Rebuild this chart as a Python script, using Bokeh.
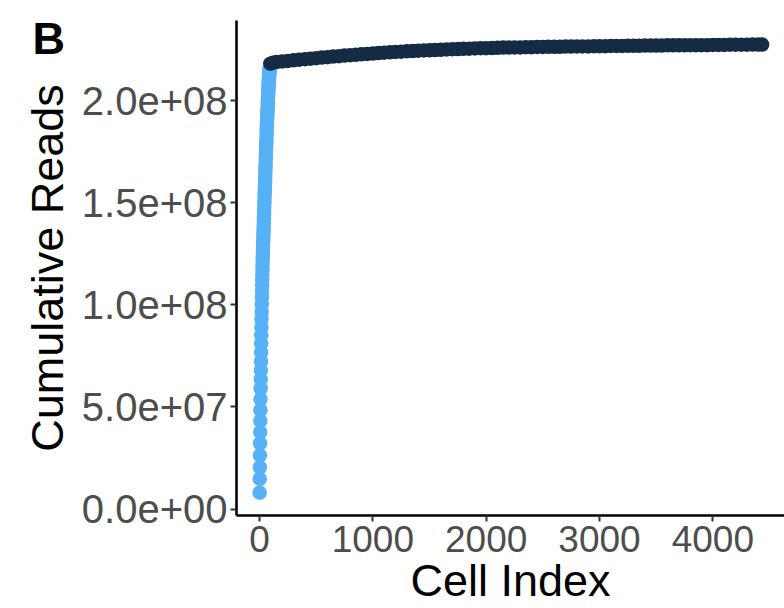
import math
from bokeh.plotting import figure
from bokeh.models import (ColumnDataSource, FixedTicker, CustomJSTickFormatter,
                          Range1d, Title)
from bokeh.embed import file_html
from bokeh.resources import INLINE

# ---------------- data ----------------
blue_cells = [1, 2, 3, 4, 5, 6, 7, 8, 9, 10, 11, 12, 13, 14, 15, 16, 17, 18, 19, 20,
              21, 22, 23, 24, 25, 26, 27, 28, 29, 30, 31, 32, 33, 34, 35, 36, 37, 38, 39, 40,
              41, 42, 43, 44, 45, 46, 47, 48, 49, 50, 51, 52, 53, 54, 55, 56, 57,
              58, 59, 60, 61, 62, 63, 64, 65, 66, 67, 68, 69, 70, 71, 72, 73, 74, 75, 76,
              77, 78, 79, 80, 81, 82, 83, 84, 85, 86, 87, 88, 89, 90, 91, 92, 93, 94, 95]
blue_reads_m = [8.0, 14.7, 20.4, 26.3, 32.1, 37.7, 43.2, 48.4, 53.8, 59.0,
                63.6, 68.0, 72.4, 76.6, 81.0, 85.1, 89.1, 92.9, 96.5, 100.2,
                103.6, 106.7, 109.6, 112.3, 114.8, 117.2, 119.5, 121.7, 123.8, 125.8,
                127.8, 129.7, 131.6, 133.4, 135.2, 137.0, 138.8, 140.6, 142.4, 144.2,
                146.0, 147.8, 149.6, 151.4, 153.2, 155.0, 156.8, 158.6, 160.4, 162.2,
                164.0, 165.8, 167.6, 169.4, 171.1, 172.8, 174.5,
                176.2, 177.9, 179.5, 181.1, 182.7, 184.3, 185.8, 187.3, 188.8, 190.3,
                191.7, 193.1, 194.5, 195.9, 197.2, 198.5, 199.8, 201.0, 202.2, 203.4,
                204.6, 205.7, 206.8, 207.9, 208.9, 209.9, 210.8, 211.7, 212.5, 213.3,
                214.0, 214.7, 215.3, 215.9, 216.4, 216.9, 217.3, 217.7]

dark_cells = [96, 120, 150, 200, 250, 300, 350, 400, 450, 500, 550, 600, 650, 700, 750,
              800, 850, 900, 950, 1000, 1050, 1100, 1150, 1200, 1250, 1300, 1350, 1400,
              1450, 1500, 1550, 1600, 1650, 1700, 1750, 1800, 1850, 1900, 1950, 2000,
              2050, 2100, 2150, 2200, 2250, 2300, 2350, 2400, 2450, 2500, 2550, 2600,
              2650, 2700, 2750, 2800, 2850, 2900, 2950, 3000, 3050, 3100, 3150, 3200,
              3250, 3300, 3350, 3400, 3450, 3500, 3550, 3600, 3650, 3700, 3750, 3800,
              3850, 3900, 3950, 4000, 4050, 4100, 4150, 4200, 4250, 4300, 4350, 4400, 4435]
dark_reads_m = [218.0, 218.5, 218.8, 219.1, 219.4, 219.7, 220.0, 220.2, 220.5, 220.7,
                221.0, 221.2, 221.5, 221.7, 222.0, 222.2, 222.4, 222.6, 222.8, 223.0,
                223.2, 223.4, 223.6, 223.8, 223.9, 224.1, 224.2, 224.4, 224.5, 224.6,
                224.7, 224.8, 225.0, 225.1, 225.2, 225.3, 225.4, 225.5, 225.6, 225.6,
                225.7, 225.8, 225.9, 225.9, 226.0, 226.0, 226.1, 226.1, 226.2, 226.2,
                226.3, 226.3, 226.3, 226.4, 226.4, 226.5, 226.5, 226.5, 226.6, 226.6,
                226.6, 226.7, 226.7, 226.7, 226.8, 226.8, 226.8, 226.9, 226.9, 226.9,
                226.9, 227.0, 227.0, 227.0, 227.0, 227.1, 227.1, 227.1, 227.1, 227.2,
                227.2, 227.2, 227.3, 227.3, 227.3, 227.3, 227.4, 227.4, 227.4]

x_ticks = [0, 1000, 2000, 3000, 4000]
y_ticks = [0, 50_000_000, 100_000_000, 150_000_000, 200_000_000]

x_title = "Cell Index"
y_title = "Cumulative Reads"
panel_tag = "B"

BLUE = "#56B1F7"
NAVY = "#132B43"
FONT = "Liberation Sans"

W, H = 784, 608
LEFT, TOP, BOTTOM, RIGHT = 236, 20, 93, 0
X0, X1 = -203.0, 4632.5
Y0, Y1 = -3.18e6, 239.17e6

p = figure(width=W, height=H, output_backend="svg", toolbar_location=None,
           x_range=Range1d(X0, X1), y_range=Range1d(Y0, Y1),
           min_border_left=LEFT, min_border_right=RIGHT,
           min_border_top=TOP, min_border_bottom=BOTTOM,
           background_fill_color="white", border_fill_color="white")
p.outline_line_color = None
p.xgrid.visible = False
p.ygrid.visible = False

blue_src = ColumnDataSource(dict(x=blue_cells, y=[v * 1e6 for v in blue_reads_m]))
dark_src = ColumnDataSource(dict(x=dark_cells, y=[v * 1e6 for v in dark_reads_m]))
p.scatter("x", "y", source=blue_src, size=14.5, fill_color=BLUE, line_color=None)
p.scatter("x", "y", source=dark_src, size=14.5, fill_color=NAVY, line_color=None)

for ax in (p.xaxis[0], p.yaxis[0]):
    ax.axis_line_color = "black"
    ax.axis_line_width = 2.6
    ax.major_tick_line_color = "#333333"
    ax.major_tick_line_width = 2
    ax.major_tick_out = 6
    ax.major_tick_in = 0
    ax.minor_tick_line_color = None
    ax.major_label_text_color = "#4D4D4D"
    ax.major_label_text_font = FONT
    ax.axis_label_text_font = FONT
    ax.axis_label_text_font_size = "45px"
    ax.axis_label_text_font_style = "normal"
    ax.axis_label_text_color = "black"

p.xaxis[0].major_label_text_font_size = "37px"
p.yaxis[0].major_label_text_font_size = "40px"
p.xaxis[0].ticker = FixedTicker(ticks=x_ticks)
p.yaxis[0].ticker = FixedTicker(ticks=y_ticks)
p.xaxis[0].major_label_standoff = 4
p.yaxis[0].major_label_standoff = 3
p.xaxis[0].axis_label = x_title
p.xaxis[0].axis_label_standoff = 0
p.yaxis[0].axis_label = y_title
p.yaxis[0].axis_label_standoff = 6
p.yaxis[0].formatter = CustomJSTickFormatter(code="""
    const s = tick.toExponential(1);
    const parts = s.split('e');
    const sign = parts[1][0];
    let d = parts[1].slice(1);
    if (d.length < 2) { d = '0' + d; }
    return parts[0] + 'e' + sign + d;
""")

# panel tag as a title above, pulled down into the top-left corner
p.add_layout(Title(text=panel_tag, align="left", vertical_align="bottom", standoff=-86,
                   offset=-204, text_font=FONT, text_font_size="45px",
                   text_font_style="bold", text_color="black"), "above")

open("out.html", "w").write(file_html(p, INLINE))
